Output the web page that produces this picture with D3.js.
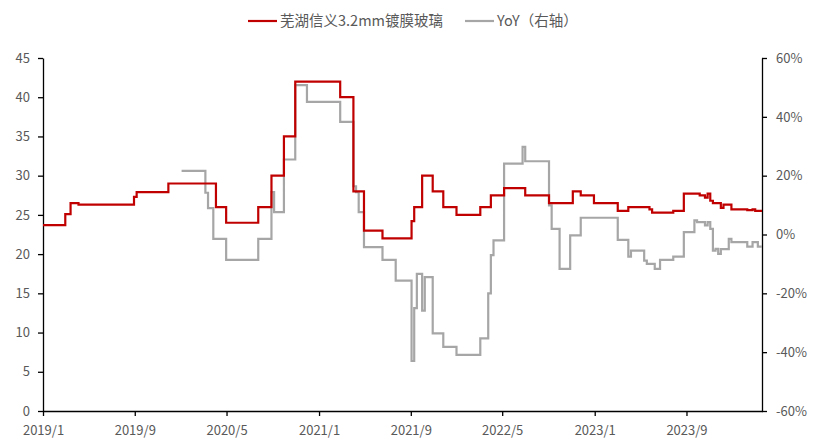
<!DOCTYPE html>
<html>
<head>
<meta charset="utf-8">
<script src="https://cdn.jsdelivr.net/npm/d3@7"></script>
<style>
    body { margin: 0; background: #fff; }
    text { font-family: "Noto Sans CJK SC", "Noto Sans", sans-serif; }
</style>
</head>
<body>
<div id="chart"></div>
<script>
// price series (left axis), change points of a weekly series
const priceDates = [
    "2019-01-01","2019-03-01","2019-03-15","2019-04-05","2019-08-30","2019-09-06","2019-11-29",
    "2020-04-03","2020-04-30","2020-07-24","2020-08-28","2020-09-30","2020-10-30",
    "2021-02-26","2021-04-02","2021-04-30","2021-06-18","2021-09-03","2021-09-10","2021-10-01",
    "2021-10-29","2021-11-26","2021-12-31","2022-03-04","2022-04-01","2022-05-06","2022-07-01",
    "2022-09-02","2022-11-04","2022-11-25","2022-12-30","2023-03-03","2023-03-31","2023-05-26",
    "2023-06-02","2023-07-28","2023-08-25","2023-10-06","2023-10-20","2023-10-27","2023-11-03",
    "2023-11-10","2023-12-01","2023-12-08","2023-12-29","2024-02-09","2024-02-23","2024-03-01",
    "2024-03-19"
];
const priceValues = [
    23.7,25.1,26.5,26.3,27.3,27.9,29.0,
    26.0,24.0,26.0,30.0,35.0,42.0,
    40.0,28.0,23.0,22.0,24.2,26.0,30.0,
    28.0,26.0,25.0,26.0,27.5,28.4,27.5,
    26.5,28.0,27.5,26.5,25.5,26.0,25.7,
    25.3,25.5,27.7,27.5,27.2,27.7,26.8,
    26.5,25.9,26.3,25.7,25.6,25.7,25.5,
    25.5
];
// YoY series in % (right axis)
const yoyDates = [
    "2020-01-03","2020-03-06","2020-03-13","2020-03-27","2020-04-30","2020-07-24","2020-08-28",
    "2020-09-04","2020-09-30","2020-10-30","2020-11-30","2021-02-26","2021-04-02","2021-04-09",
    "2021-04-16","2021-04-30","2021-06-18","2021-07-23","2021-09-03","2021-09-10","2021-09-17",
    "2021-10-01","2021-10-08","2021-10-29","2021-11-26","2021-12-31","2022-03-04","2022-03-25",
    "2022-04-01","2022-04-08","2022-05-06","2022-06-24","2022-07-01","2022-09-02","2022-09-09",
    "2022-09-30","2022-10-28","2022-11-25","2023-03-03","2023-03-31","2023-04-07","2023-05-12",
    "2023-05-19","2023-06-09","2023-06-23","2023-07-28","2023-08-25","2023-09-22","2023-09-29",
    "2023-10-20","2023-10-27","2023-11-03","2023-11-10","2023-11-17","2023-11-24","2023-12-01",
    "2023-12-22","2023-12-29","2024-02-09","2024-02-23","2024-03-08","2024-03-19"
];
const yoyValues = [
    21.6,14.2,9.0,-1.5,-8.6,-1.5,14.4,
    7.6,25.5,50.8,45.1,38.3,16.4,14.4,
    7.6,-4.3,-8.6,-15.7,-43.0,-25.0,-13.4,
    -25.9,-14.5,-33.6,-38.2,-40.9,-35.3,-20.0,
    -7.0,-2.0,24.1,29.8,24.9,9.9,1.9,
    -11.7,-0.3,5.7,-1.8,-7.5,-5.5,-8.9,
    -10.0,-11.7,-8.6,-7.5,0.8,4.8,4.2,
    3.1,4.2,1.9,-5.5,-4.9,-6.6,-5.0,
    -1.5,-2.6,-4.1,-2.6,-4.1,-4.1
];
const xTickLabels = ["2019/1","2019/9","2020/5","2021/1","2021/9","2022/5","2023/1","2023/9"];
const leftTicks = [0,5,10,15,20,25,30,35,40,45];
const rightTicks = [-60,-40,-20,0,20,40,60];
const priceName = "芜湖信义3.2mm镀膜玻璃";
const yoyName = "YoY（右轴）";

const W = 813, H = 440;
const margin = {top: 58, right: 51, bottom: 29, left: 43};
const width = W - margin.left - margin.right;
const height = H - margin.top - margin.bottom;
const labelColor = "#595959";

const parse = d3.timeParse("%Y-%m-%d");
const priceData = priceDates.map((d, i) => ({date: parse(d), value: priceValues[i]}));
const yoyData = yoyDates.map((d, i) => ({date: parse(d), value: yoyValues[i]}));

const x = d3.scaleTime()
    .domain([parse("2019-01-01"), parse("2024-03-19")])
    .range([0, width]);
const yL = d3.scaleLinear().domain([0, 45]).range([height, 0]);
const yR = d3.scaleLinear().domain([-60, 60]).range([height, 0]);

const svg = d3.select("#chart").append("svg")
    .attr("width", W)
    .attr("height", H);
const g = svg.append("g")
    .attr("transform", "translate(" + margin.left + "," + margin.top + ")");

// axes
const xTicks = xTickLabels.map(s => d3.timeParse("%Y/%m")(s));
const xAxis = g.append("g")
    .attr("transform", "translate(0," + height + ")")
    .call(d3.axisBottom(x).tickValues(xTicks).tickFormat(d3.timeFormat("%Y/%-m")).tickSize(5).tickSizeOuter(0));
const leftAxis = g.append("g")
    .call(d3.axisLeft(yL).tickValues(leftTicks).tickSize(5).tickSizeOuter(0).tickPadding(8));
const rightAxis = g.append("g")
    .attr("transform", "translate(" + width + ",0)")
    .call(d3.axisRight(yR).tickValues(rightTicks).tickFormat(d => d + "%").tickSize(5).tickSizeOuter(0).tickPadding(9));

[xAxis, leftAxis, rightAxis].forEach(a => {
    a.select(".domain").attr("stroke", "#000").attr("stroke-width", 1.3);
    a.selectAll(".tick line").attr("stroke", "#000").attr("stroke-width", 1.3);
    a.selectAll(".tick text")
        .attr("fill", labelColor)
        .style("font-size", "13px")
        .style("font-family", "'Noto Sans CJK SC', 'Noto Sans', sans-serif");
});
xAxis.selectAll(".tick text").attr("dy", "1.25em");

// lines
const priceLine = d3.line()
    .x(d => x(d.date))
    .y(d => yL(d.value))
    .curve(d3.curveStepAfter);
const yoyLine = d3.line()
    .x(d => x(d.date))
    .y(d => yR(d.value))
    .curve(d3.curveStepAfter);

g.append("path")
    .datum(yoyData)
    .attr("fill", "none")
    .attr("stroke", "#a6a6a6")
    .attr("stroke-width", 2.2)
    .attr("d", yoyLine);
g.append("path")
    .datum(priceData)
    .attr("fill", "none")
    .attr("stroke", "#c00000")
    .attr("stroke-width", 2.2)
    .attr("d", priceLine);

// legend
const legend = svg.append("g");
const items = [
    {name: priceName, color: "#c00000", x: 248},
    {name: yoyName, color: "#a6a6a6", x: 465}
];
items.forEach(it => {
    legend.append("line")
        .attr("x1", it.x).attr("x2", it.x + 29)
        .attr("y1", 21).attr("y2", 21)
        .attr("stroke", it.color)
        .attr("stroke-width", 2.2);
    legend.append("text")
        .attr("x", it.x + 32)
        .attr("y", 26)
        .attr("fill", labelColor)
        .style("font-size", "14.5px")
        .text(it.name);
});
</script>
</body>
</html>
